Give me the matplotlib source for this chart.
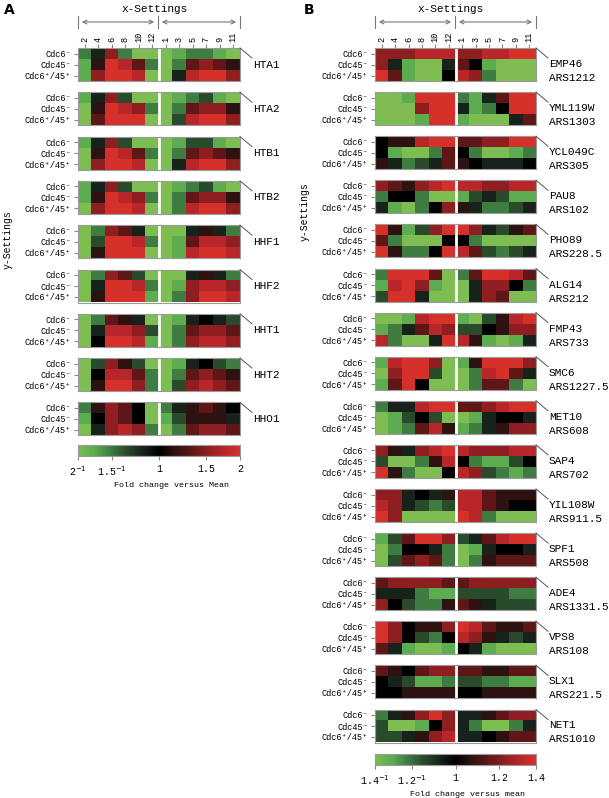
import numpy as np
import matplotlib
matplotlib.use('Agg')
import matplotlib.pyplot as plt
from matplotlib.colors import LinearSegmentedColormap
from matplotlib.lines import Line2D
from matplotlib.patches import FancyArrowPatch

W, H = 609, 798
MONO = ['Liberation Mono', 'DejaVu Sans Mono']

col_labels = ['2', '4', '6', '8', '10', '12', '1', '3', '5', '7', '9', '11']
row_labels = ['Cdc6⁻', 'Cdc45⁻', 'Cdc6⁺/45⁺']

# scores: -5 = left end of colour bar, 0 = black, 5 = right end
# panel A (histone genes)
HTA1 = [[-3, -1, 3, -3, -5, -5, -5, -4, -3, -3, -4, -5],
        [-4, 1, 5, 4, 2, -3, -5, -3, 2, 3, 2, 1],
        [-4, 3, 5, 5, 4, -5, -5, -1, 4, 5, 5, 3]]
HTA2 = [[-4, -1, 3, -2, -5, -5, -5, -4, -3, -2, -4, -5],
        [-5, 1, 5, 4, 3, -3, -5, -3, 2, 3, 3, 1],
        [-5, 2, 5, 5, 5, -5, -5, -2, 4, 5, 5, 3]]
HTB1 = [[-4, -1, 3, -2, -5, -5, -5, -4, -2, -2, -4, -5],
        [-5, 1, 5, 4, 2, -3, -5, -3, 2, 3, 2, 1],
        [-5, 3, 5, 5, 4, -5, -5, -1, 4, 5, 5, 3]]
HTB2 = [[-4, -1, 3, -2, -5, -5, -5, -4, -3, -2, -4, -5],
        [-4, 1, 5, 4, 3, -3, -5, -3, 2, 3, 3, 1],
        [-5, 3, 5, 5, 4, -5, -5, -3, 4, 5, 5, 3]]
HHF1 = [[-5, -3, 3, 2, -1, -5, -5, -5, -1, 1, -1, -3],
        [-5, -2, 5, 5, 4, -3, -5, -4, 2, 4, 4, 3],
        [-5, 1, 5, 5, 5, -5, -5, -4, 4, 5, 5, 4]]
HHF2 = [[-5, -3, 3, 2, -2, -5, -5, -5, -1, 1, -1, -3],
        [-5, -1, 5, 5, 4, -3, -5, -4, 3, 4, 4, 3],
        [-5, 1, 5, 5, 5, -4, -5, -3, 3, 5, 5, 4]]
HHT1 = [[-5, -3, 2, 1, -1, -5, -5, -4, -1, 0, -1, -2],
        [-5, -1, 4, 4, 3, -2, -5, -3, 2, 3, 3, 2],
        [-5, 0, 5, 5, 4, -4, -5, -3, 3, 4, 4, 3]]
HHT2 = [[-5, -2, 3, 1, -2, -5, -5, -4, -1, 0, -2, -3],
        [-5, 0, 4, 4, 2, -3, -5, -3, 2, 3, 2, 1],
        [-5, 1, 5, 5, 3, -3, -5, -2, 3, 4, 3, 2]]
HHO1 = [[-3, 1, 3, 2, 0, -5, -3, -1, 1, 2, 1, 0],
        [-4, 0, 3, 2, 0, -5, -4, -2, 1, 1, 1, -1],
        [-5, -1, 3, 4, 3, -3, -5, -3, 2, 3, 3, 2]]

genes_a = ['HTA1', 'HTA2', 'HTB1', 'HTB2', 'HHF1', 'HHF2', 'HHT1', 'HHT2', 'HHO1']
panels_a = [HTA1, HTA2, HTB1, HTB2, HHF1, HHF2, HHT1, HHT2, HHO1]

# panel B (genes next to origins)
EMP46 = [[3, 3, 3, 4, 4, 4, 3, 3, 4, 4, 5, 5],
         [3, -1, -4, -5, -5, -1, 2, 0, -4, -5, -5, -5],
         [5, 2, -4, -5, -5, 0, 4, 3, -3, -5, -5, -5]]
YML119W = [[-5, -5, -4, 5, 5, 5, -3, -4, -1, 2, 5, 5],
           [-5, -5, -5, 3, 5, 5, -1, -4, -3, 0, 5, 5],
           [-5, -5, -5, -4, 5, 5, -4, -5, -5, -5, -1, 2]]
YCL049C = [[0, 1, 1, 4, 5, 5, 2, 2, 3, 3, 5, 5],
           [0, -4, -5, -5, -3, 2, 0, -3, -5, -5, -4, -3],
           [1, -1, -3, -2, -1, 2, 1, 0, -1, -1, -1, 0]]
PAU8 = [[3, 2, 1, 3, 4, 5, 4, 4, 3, 3, 4, 4],
        [-3, 0, 0, -3, -5, -5, -4, -2, -1, -2, -4, -4],
        [-1, -4, -5, -3, 0, 3, 1, -1, -3, -3, -2, -1]]
PHO89 = [[5, 1, -4, -2, 3, 5, 5, 3, -1, -2, 1, 2],
         [2, -3, -5, -5, -5, 0, 0, -3, -5, -5, -5, -5],
         [5, 1, -3, -3, 0, 5, 4, 2, -2, -3, -2, -1]]
ALG14 = [[-3, 5, 5, 5, 2, -5, -3, 2, 5, 5, 4, 2],
         [-4, 4, 5, 3, -4, -5, -5, -1, 3, 3, 0, -3],
         [-2, 5, 5, -1, -5, -5, -5, -1, 3, 2, -5, -5]]
FMP43 = [[-5, -5, -4, 4, 5, 5, -4, -5, -2, 1, 4, 5],
         [-4, -3, -1, 2, 4, 3, -2, -2, 0, 1, 3, 3],
         [4, -3, -5, -5, -1, 5, 4, 1, -4, -5, -4, -1]]
SMC6 = [[-4, 4, 5, 5, 3, -5, -4, 1, 5, 5, 5, 3],
        [-5, 3, 5, 5, -2, -5, -5, -3, 4, 5, 2, -1],
        [-4, 2, 5, 0, -5, -5, -5, -3, 2, 2, -3, -5]]
MET10 = [[-3, -1, -1, 4, 5, 5, 2, 2, 3, 4, 5, 5],
         [-5, -4, -2, 0, -2, -5, -5, -4, -1, 0, 0, -1],
         [-5, -4, -3, 2, 4, 1, -4, -3, -1, 1, 3, 3]]
SAP4 = [[3, 1, -1, 3, 4, 5, 4, 3, 3, 3, 4, 4],
        [-2, -5, -5, -3, 1, 4, 0, -3, -4, -4, -2, 0],
        [5, 1, -3, -5, -5, 0, 4, 3, -2, -3, -4, -3]]
YIL108W = [[3, 3, -1, 0, -1, 1, 4, 4, 2, 1, 1, 1],
           [4, 3, -1, -2, -3, -2, 4, 4, 2, 1, 0, 0],
           [5, 3, -5, -5, -5, -5, 5, 4, -3, -5, -5, -5]]
SPF1 = [[-4, -2, 2, 5, 5, 3, -2, -1, 2, 4, 5, 5],
        [-5, -3, 0, 0, -1, -3, -5, -4, -1, 0, 0, -1],
        [-5, -2, 2, 3, 2, -3, -5, -3, 1, 2, 2, 2]]
ADE4 = [[2, 3, 3, 3, 3, 2, 2, 3, 3, 3, 3, 3],
        [-1, -1, -1, -3, -4, -4, -2, -2, -2, -2, -3, -3],
        [3, 0, -2, -3, -3, 1, 2, 1, -1, -2, -2, -2]]
VPS8 = [[5, 3, 0, 1, 1, 3, 5, 4, 2, 1, 1, 2],
        [5, 3, 0, -2, -3, 0, 4, 3, 1, -1, -2, -1],
        [2, -1, -4, -5, -5, -4, 0, -1, -4, -5, -5, -5]]
SLX1 = [[2, 1, 0, 2, 3, 3, 2, 2, 1, 1, 2, 2],
        [0, -1, -2, -4, -4, -3, -2, -2, -3, -3, -4, -4],
        [0, 0, 1, 1, 1, 1, 0, 0, 1, 1, 1, 1]]
NET1 = [[-3, -1, 1, 3, 5, 3, -1, -1, 1, 2, 3, 3],
        [-2, -5, -5, -4, 0, 3, -1, -3, -5, -5, -3, -1],
        [-2, -2, -1, 1, 3, 4, -1, -1, 0, 1, 2, 2]]

genes_b = ['EMP46', 'YML119W', 'YCL049C', 'PAU8', 'PHO89', 'ALG14', 'FMP43', 'SMC6',
           'MET10', 'SAP4', 'YIL108W', 'SPF1', 'ADE4', 'VPS8', 'SLX1', 'NET1']
ars_b = ['ARS1212', 'ARS1303', 'ARS305', 'ARS102', 'ARS228.5', 'ARS212', 'ARS733', 'ARS1227.5',
         'ARS608', 'ARS702', 'ARS911.5', 'ARS508', 'ARS1331.5', 'ARS108', 'ARS221.5', 'ARS1010']
panels_b = [EMP46, YML119W, YCL049C, PAU8, PHO89, ALG14, FMP43, SMC6,
            MET10, SAP4, YIL108W, SPF1, ADE4, VPS8, SLX1, NET1]

cbar_ticks_a = ['2$^{-1}$', '1.5$^{-1}$', '1', '1.5', '2']
cbar_vals_a = [0.5, 1 / 1.5, 1, 1.5, 2]
cbar_ticks_b = ['1.4$^{-1}$', '1.2$^{-1}$', '1', '1.2', '1.4']
cbar_vals_b = [1 / 1.4, 1 / 1.2, 1, 1.2, 1.4]

cmap = LinearSegmentedColormap.from_list('gkr', [
    (0.0, '#7dbd52'), (0.1, '#5dad50'), (0.2, '#3e7c42'), (0.3, '#2a4a2c'),
    (0.4, '#17231a'), (0.5, '#000000'), (0.6, '#2e1212'), (0.7, '#5e1616'),
    (0.8, '#8e1e20'), (0.9, '#b82629'), (1.0, '#d6302a')])

EDGE = '#9a9a9a'


def px_axes(fig, x0, y0, x1, y1):
    return fig.add_axes([x0 / W, 1 - y1 / H, (x1 - x0) / W, (y1 - y0) / H])


def fig_line(fig, xs, ys, **kw):
    fig.add_artist(Line2D([x / W for x in xs], [1 - y / H for y in ys],
                          transform=fig.transFigure, **kw))


def draw_panel(fig, x0, x1, top, data, show_cols):
    ax = px_axes(fig, x0, top, x1, top + 33)
    ax.imshow(np.array(data) / 5.0, cmap=cmap, vmin=-1, vmax=1,
              aspect='auto', interpolation='nearest')
    ax.axvline(5.5, color='white', lw=2)
    ax.set_yticks(range(3))
    ax.set_yticklabels(row_labels, fontsize=6.2, family=MONO)
    ax.tick_params(axis='y', length=3, color='#888888', pad=2)
    if show_cols:
        ax.xaxis.tick_top()
        ax.set_xticks(range(12))
        ax.set_xticklabels(col_labels, fontsize=6.2, family=MONO, rotation=90)
        ax.tick_params(axis='x', length=3, color='#888888', pad=1.5)
    else:
        ax.set_xticks([])
    for s in ax.spines.values():
        s.set_color(EDGE)
        s.set_linewidth(0.8)
    return ax


def x_settings(fig, x0, xm, x1):
    y = 22
    for x in (x0, xm, x1):
        fig_line(fig, [x, x], [y - 6, y + 6], color='#777777', lw=0.8)
    for a, b in ((x0, xm), (xm, x1)):
        fig.add_artist(FancyArrowPatch(((a + 1) / W, 1 - y / H), ((b - 1) / W, 1 - y / H),
                                       transform=fig.transFigure, arrowstyle='<->',
                                       mutation_scale=7, color='#777777', lw=0.8))
    fig.text((x0 + x1) / 2 / W - 0.008, 1 - 9 / H, 'x-Settings', ha='center', va='center',
             fontsize=8, family=MONO)


def colorbar(fig, x0, x1, top, ticks, vals, rng, label):
    ax = px_axes(fig, x0, top, x1, top + 11)
    grad = np.linspace(-1, 1, 256).reshape(1, -1)
    ax.imshow(grad, cmap=cmap, vmin=-1, vmax=1, aspect='auto', extent=(-1, 1, 0, 1))
    pos = [np.log(v) / np.log(rng) for v in vals]
    ax.set_xticks(pos)
    ax.set_xticklabels(ticks, fontsize=7.2, family=MONO)
    ax.tick_params(axis='x', length=3, color='#888888', pad=3)
    ax.set_yticks([])
    ax.set_xlim(-1, 1)
    for s in ax.spines.values():
        s.set_color(EDGE)
        s.set_linewidth(0.8)
    fig.text((x0 + x1) / 2 / W + 0.02, 1 - (top + 40) / H, label, ha='center', va='center',
             fontsize=6, family=MONO)


def main():
    fig = plt.figure(figsize=(W / 100, H / 100), dpi=100)

    # panel A
    ax0, ax1 = 78, 240
    for i, (gene, data) in enumerate(zip(genes_a, panels_a)):
        top = 48 + i * 44.3
        draw_panel(fig, ax0, ax1, top, data, i == 0)
        fig_line(fig, [ax1, ax1 + 12], [top, top + 10], color='#555555', lw=0.7)
        fig.text((ax1 + 13) / W, 1 - (top + 16.5) / H, gene, ha='left', va='center',
                 fontsize=8, family=MONO)
    x_settings(fig, ax0, 158, ax1)
    colorbar(fig, ax0, ax1, 445, cbar_ticks_a, cbar_vals_a, 2, 'Fold change versus Mean')
    fig.text(8 / W, 1 - 240 / H, 'y-Settings', rotation=90, ha='center', va='center',
             fontsize=7, family=MONO)
    fig.text(4 / W, 1 - 10 / H, 'A', fontsize=10, fontweight='bold', ha='left', va='center')

    # panel B
    bx0, bx1 = 375, 536
    for i, (gene, ars, data) in enumerate(zip(genes_b, ars_b, panels_b)):
        top = 48 + i * 44.1
        draw_panel(fig, bx0, bx1, top, data, i == 0)
        fig_line(fig, [bx1, bx1 + 12], [top, top + 10], color='#555555', lw=0.7)
        fig.text((bx1 + 13) / W, 1 - (top + 16) / H, gene, ha='left', va='center',
                 fontsize=8, family=MONO)
        fig.text((bx1 + 13) / W, 1 - (top + 30) / H, ars, ha='left', va='center',
                 fontsize=8, family=MONO)
    x_settings(fig, bx0, 455, bx1)
    colorbar(fig, bx0, bx1, 754, cbar_ticks_b, cbar_vals_b, 1.4, 'Fold change versus mean')
    fig.text(305 / W, 1 - 212 / H, 'y-Settings', rotation=90, ha='center', va='center',
             fontsize=7, family=MONO)
    fig.text(304 / W, 1 - 10 / H, 'B', fontsize=10, fontweight='bold', ha='left', va='center')

    fig.savefig('out.png', dpi=100)


if __name__ == '__main__':
    main()
